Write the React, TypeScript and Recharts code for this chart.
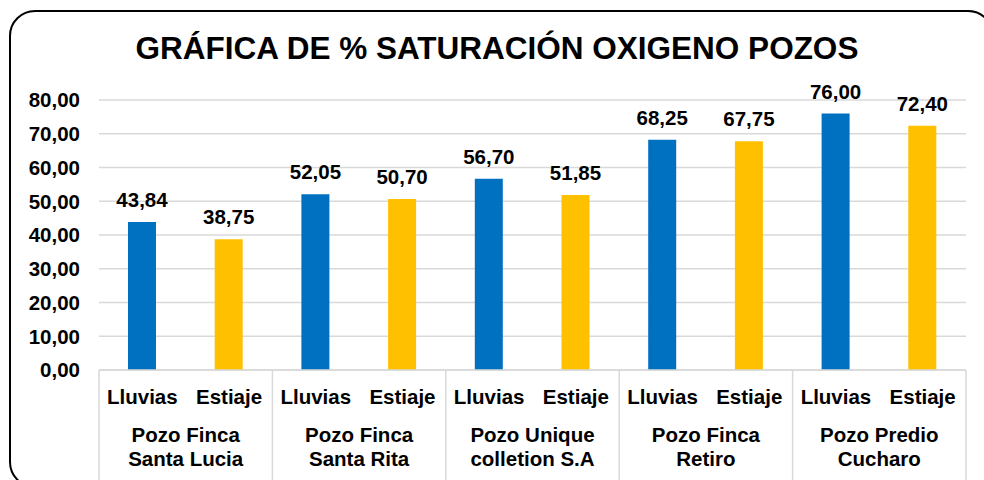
import { BarChart, Bar, XAxis, YAxis, CartesianGrid, Cell, LabelList } from 'recharts';

const wells = [
  ['Pozo Finca', 'Santa Lucia'],
  ['Pozo Finca', 'Santa Rita'],
  ['Pozo Unique', 'colletion S.A'],
  ['Pozo Finca', 'Retiro'],
  ['Pozo Predio', 'Cucharo'],
];
const seasons = ['Lluvias', 'Estiaje'];
const lluvias = [43.84, 52.05, 56.7, 68.25, 76.0];
const estiaje = [38.75, 50.7, 51.85, 67.75, 72.4];
const yTicks = [0, 10, 20, 30, 40, 50, 60, 70, 80];

const BLUE = '#0070C0';
const YELLOW = '#FFC000';
const GRID = '#D9D9D9';
const FONT = '"Liberation Sans", Arial, sans-serif';

const W = 984;
const H = 480;
const PLOT_LEFT = 99;
const PLOT_RIGHT = 966;
const PLOT_TOP = 100;
const PLOT_BOTTOM = 370;
const SLOT = (PLOT_RIGHT - PLOT_LEFT) / (wells.length * 2);

const data = wells.flatMap((w, i) => [
  { key: `${i}-l`, season: seasons[0], well: w, value: lluvias[i], color: BLUE },
  { key: `${i}-e`, season: seasons[1], well: w, value: estiaje[i], color: YELLOW },
]);

const fmt = (v: number) => v.toFixed(2).replace('.', ',');

function SeasonTick(props: any) {
  const { x, index } = props;
  const d = data[index];
  const textStyle = { fontFamily: FONT, fontWeight: 'bold' as const, fill: '#000' };
  return (
    <g>
      <text x={x} y={404} textAnchor="middle" fontSize={20.5} style={textStyle}>
        {d.season}
      </text>
      {index % 2 === 0 && (
        <>
          <line x1={x - SLOT / 2} x2={x - SLOT / 2} y1={PLOT_BOTTOM} y2={H} stroke={GRID} strokeWidth={1.5} />
          <text x={x + SLOT / 2} y={442} textAnchor="middle" fontSize={20.5} style={textStyle}>
            {d.well[0]}
          </text>
          <text x={x + SLOT / 2} y={466} textAnchor="middle" fontSize={20.5} style={textStyle}>
            {d.well[1]}
          </text>
        </>
      )}
      {index === data.length - 1 && (
        <line x1={x + SLOT / 2} x2={x + SLOT / 2} y1={PLOT_BOTTOM} y2={H} stroke={GRID} strokeWidth={1.5} />
      )}
    </g>
  );
}

export default function App() {
  return (
    <div style={{ position: 'absolute', left: 0, top: 0, width: W, height: H, overflow: 'hidden', background: '#fff' }}>
      <div
        style={{
          position: 'absolute',
          left: 9,
          top: 10,
          width: 985,
          height: 478,
          border: '2.5px solid #000',
          borderRadius: 26,
          boxSizing: 'border-box',
        }}
      />
      <div
        style={{
          position: 'absolute',
          top: 28,
          left: 0,
          width: W,
          paddingLeft: 10,
          boxSizing: 'border-box',
          textAlign: 'center',
          fontFamily: FONT,
          fontWeight: 'bold',
          fontSize: 31.5,
          lineHeight: '40px',
        }}
      >
        GRÁFICA DE % SATURACIÓN OXIGENO POZOS
      </div>
      <div style={{ position: 'absolute', left: 0, top: 0 }}>
        <BarChart
          width={W}
          height={H}
          data={data}
          margin={{ top: PLOT_TOP, right: W - PLOT_RIGHT, bottom: 0, left: 0 }}
        >
          <CartesianGrid vertical={false} stroke={GRID} strokeWidth={1.5} />
          <XAxis
            dataKey="key"
            height={H - PLOT_BOTTOM}
            interval={0}
            tickLine={false}
            axisLine={{ stroke: GRID, strokeWidth: 1.5 }}
            tick={<SeasonTick />}
          />
          <YAxis
            width={PLOT_LEFT}
            domain={[0, 80]}
            ticks={yTicks}
            tickFormatter={fmt}
            axisLine={false}
            tickLine={false}
            tickMargin={13}
            tick={{ fontFamily: FONT, fontWeight: 'bold', fontSize: 20.5, fill: '#000' }}
          />
          <Bar dataKey="value" barSize={28} isAnimationActive={false}>
            {data.map((d) => (
              <Cell key={d.key} fill={d.color} />
            ))}
            <LabelList
              dataKey="value"
              position="top"
              offset={15}
              formatter={(v: any) => fmt(Number(v))}
              style={{ fontFamily: FONT, fontWeight: 'bold', fontSize: 20.5, fill: '#000' }}
            />
          </Bar>
        </BarChart>
      </div>
    </div>
  );
}
